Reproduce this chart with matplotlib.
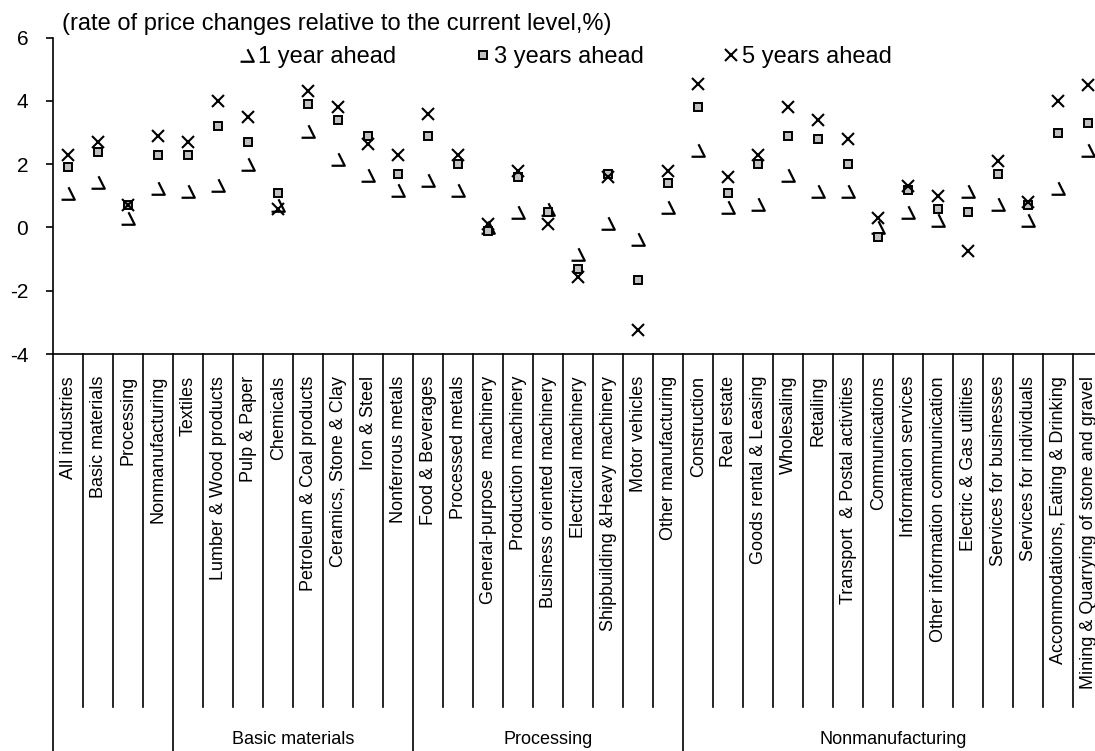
import matplotlib
matplotlib.use("Agg")
import matplotlib.pyplot as plt
from matplotlib.path import Path

plt.rcParams["font.family"] = ["Liberation Sans", "DejaVu Sans"]
plt.rcParams["axes.unicode_minus"] = False

# ── Data ───────────────────────────────────────────────────────────────────
industries = [
    "All industries", "Basic materials", "Processing", "Nonmanufacturing",
    "Textiles", "Lumber & Wood products", "Pulp & Paper", "Chemicals",
    "Petroleum & Coal products", "Ceramics, Stone & Clay", "Iron & Steel",
    "Nonferrous metals", "Food & Beverages", "Processed metals",
    "General-purpose  machinery", "Production machinery",
    "Business oriented machinery", "Electrical machinery",
    "Shipbuilding &Heavy machinery", "Motor vehicles", "Other manufacturing",
    "Construction", "Real estate", "Goods rental & Leasing", "Wholesaling",
    "Retailing", "Transport  & Postal activities", "Communications",
    "Information services", "Other information communication",
    "Electric & Gas utilities", "Services for businesses",
    "Services for individuals", "Accommodations, Eating & Drinking",
    "Mining & Quarrying of stone and gravel",
]

one_year = [1.1, 1.45, 0.3, 1.25, 1.15, 1.35, 2.0, 0.7, 3.05, 2.15, 1.65, 1.2,
            1.5, 1.2, 0.0, 0.5, 0.6, -0.85, 0.15, -0.35, 0.65,
            2.45, 0.65, 0.75, 1.65, 1.15, 1.15, 0.0, 0.5, 0.25, 1.15, 0.75,
            0.25, 1.25, 2.45]
three_years = [1.9, 2.4, 0.7, 2.3, 2.3, 3.2, 2.7, 1.1, 3.9, 3.4, 2.9, 1.7,
               2.9, 2.0, -0.1, 1.6, 0.5, -1.3, 1.7, -1.65, 1.4,
               3.8, 1.1, 2.0, 2.9, 2.8, 2.0, -0.3, 1.2, 0.6, 0.5, 1.7,
               0.7, 3.0, 3.3]
five_years = [2.3, 2.7, 0.7, 2.9, 2.7, 4.0, 3.5, 0.6, 4.3, 3.8, 2.65, 2.3,
              3.6, 2.3, 0.1, 1.8, 0.1, -1.55, 1.6, -3.25, 1.8,
              4.55, 1.6, 2.3, 3.8, 3.4, 2.8, 0.3, 1.3, 1.0, -0.75, 2.1,
              0.8, 4.0, 4.5]

group_names = ["", "Basic materials", "Processing", "Nonmanufacturing"]
group_edges = [0, 4, 12, 21, 35]

# ── Figure / axes geometry ─────────────────────────────────────────────────
W, H = 1095, 751
fig = plt.figure(figsize=(W / 100, H / 100), dpi=100)
ax_l, ax_r, ax_t, ax_b = 53.3, 1103.3, 37.7, 354.0
ax = fig.add_axes([ax_l / W, 1 - ax_b / H, (ax_r - ax_l) / W, (ax_b - ax_t) / H])
ax_h = ax_b - ax_t

def below(px):
    """pixel row below the x axis -> axes fraction"""
    return -(px - ax_b) / ax_h

# custom marker for "1 year ahead": slanted stroke with a base line
tick_marker = Path([(0.0, 0.45), (0.45, -0.45), (-0.5, -0.45)],
                   [Path.MOVETO, Path.LINETO, Path.LINETO])

x = [i + 0.5 for i in range(len(industries))]
h1, = ax.plot(x, one_year, linestyle="none", marker=tick_marker, ms=10,
              mec="black", mfc="none", mew=1.6, clip_on=False)
h3, = ax.plot(x, three_years, linestyle="none", marker="s", ms=5.5,
              mec="black", mfc="#c0c0c0", mew=1.4, clip_on=False)
h5, = ax.plot(x, five_years, linestyle="none", marker="x", ms=9,
              mec="black", mew=1.5, clip_on=False)

ax.set_xlim(0, len(industries))
ax.set_ylim(-4, 6)
ax.set_yticks([-4, -2, 0, 2, 4, 6])
ax.tick_params(axis="y", direction="out", length=5, width=1.2, pad=13,
               labelsize=15)
ax.set_xticks([])
for s in ("top", "right"):
    ax.spines[s].set_visible(False)
for s in ("left", "bottom"):
    ax.spines[s].set_linewidth(1.2)

# category separators and labels below the axis
xt = ax.get_xaxis_transform()
for i in range(1, len(industries)):
    if i not in group_edges:
        ax.plot([i, i], [0, below(707)], color="black", lw=1.2,
                transform=xt, clip_on=False)
for e in group_edges:
    ax.plot([e, e], [0, below(H + 5)], color="black", lw=1.2,
            transform=xt, clip_on=False)
for xi, name in zip(x, industries):
    ax.text(xi, below(376), name, transform=xt, rotation=90,
            ha="center", va="top", fontsize=13)
for g, name in enumerate(group_names):
    mid = (group_edges[g] + group_edges[g + 1]) / 2
    ax.text(mid, below(740), name, transform=xt, ha="center", va="center",
            fontsize=13)

# unit note and legend
fig.text(62 / W, 1 - 24 / H,
         "(rate of price changes relative to the current level,%)",
         fontsize=17, va="center", ha="left")
fig.legend([h1, h3, h5], ["1 year ahead", "3 years ahead", "5 years ahead"],
           ncol=3, loc="center left", bbox_to_anchor=(240 / W, 1 - 57 / H),
           frameon=False, fontsize=17, handlelength=0.6, handletextpad=0.15,
           columnspacing=3.4, borderpad=0, borderaxespad=0)

fig.savefig("out.png", dpi=100)
